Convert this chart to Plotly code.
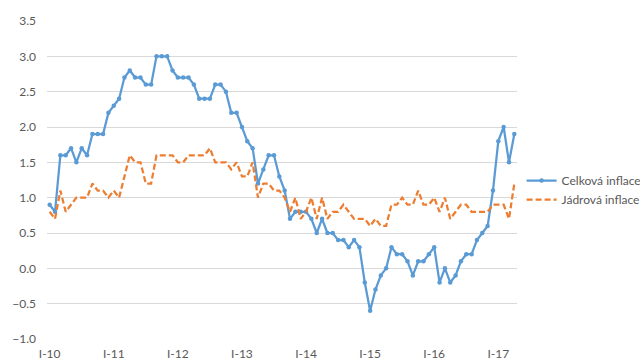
import plotly.graph_objects as go

# Year labels shown under every January
year_labels = ["I-10", "I-11", "I-12", "I-13", "I-14", "I-15", "I-16", "I-17"]

# Monthly year-on-year inflation, Jan 2010 - Apr 2017 (%)
celkova = [
    0.9, 0.8, 1.6, 1.6, 1.7, 1.5, 1.7, 1.6, 1.9, 1.9, 1.9, 2.2,   # 2010
    2.3, 2.4, 2.7, 2.8, 2.7, 2.7, 2.6, 2.6, 3.0, 3.0, 3.0, 2.8,   # 2011
    2.7, 2.7, 2.7, 2.6, 2.4, 2.4, 2.4, 2.6, 2.6, 2.5, 2.2, 2.2,   # 2012
    2.0, 1.8, 1.7, 1.2, 1.4, 1.6, 1.6, 1.3, 1.1, 0.7, 0.8, 0.8,   # 2013
    0.8, 0.7, 0.5, 0.7, 0.5, 0.5, 0.4, 0.4, 0.3, 0.4, 0.3, -0.2,  # 2014
    -0.6, -0.3, -0.1, 0.0, 0.3, 0.2, 0.2, 0.1, -0.1, 0.1, 0.1, 0.2,  # 2015
    0.3, -0.2, 0.0, -0.2, -0.1, 0.1, 0.2, 0.2, 0.4, 0.5, 0.6, 1.1,  # 2016
    1.8, 2.0, 1.5, 1.9,                                           # 2017
]
jadrova = [
    0.8, 0.7, 1.1, 0.8, 0.9, 1.0, 1.0, 1.0, 1.2, 1.1, 1.1, 1.0,   # 2010
    1.1, 1.0, 1.3, 1.6, 1.5, 1.5, 1.2, 1.2, 1.6, 1.6, 1.6, 1.6,   # 2011
    1.5, 1.5, 1.6, 1.6, 1.6, 1.6, 1.7, 1.5, 1.5, 1.5, 1.4, 1.5,   # 2012
    1.3, 1.3, 1.5, 1.0, 1.2, 1.2, 1.1, 1.1, 1.0, 0.8, 1.0, 0.7,   # 2013
    0.8, 1.0, 0.7, 1.0, 0.7, 0.8, 0.8, 0.9, 0.8, 0.7, 0.7, 0.7,   # 2014
    0.6, 0.7, 0.6, 0.6, 0.9, 0.9, 1.0, 0.9, 0.9, 1.1, 0.9, 0.9,   # 2015
    1.0, 0.8, 1.0, 0.7, 0.8, 0.9, 0.9, 0.8, 0.8, 0.8, 0.8, 0.9,   # 2016
    0.9, 0.9, 0.7, 1.2,                                           # 2017
]

months = list(range(len(celkova)))
n_cats = len(celkova)
x_range = [-0.5, n_cats - 0.5]
y_min, y_max = -1.0, 3.5

FONT = "Lato"
TEXT = "#595959"
GRID = "#d9d9d9"

fig = go.Figure()
fig.add_trace(go.Scatter(
    x=months, y=celkova, name="Celková inflace", mode="lines+markers",
    line=dict(color="#5b9bd5", width=2.25),
    marker=dict(color="#5b9bd5", size=4.5),
))
fig.add_trace(go.Scatter(
    x=months, y=jadrova, name="Jádrová inflace", mode="lines",
    line=dict(color="#ed7d31", width=2.25, dash="6px,3px"),
))

# Category axis crossing at zero: tick marks at the year boundaries
boundaries = [12 * i - 0.5 for i in range(len(year_labels) + 1)]
zero_pos = (0 - y_min) / (y_max - y_min)

fig.update_layout(
    width=640, height=362,
    margin=dict(l=47, r=123, t=21, b=23, autoexpand=False),
    paper_bgcolor="white", plot_bgcolor="white",
    font=dict(family=FONT, size=12, color=TEXT),
    showlegend=True,
    legend=dict(
        xref="container", yref="container",
        x=0.815, xanchor="left", y=0.475, yanchor="middle",
        font=dict(family=FONT, size=12, color=TEXT),
        bgcolor="rgba(0,0,0,0)", itemwidth=30, tracegroupgap=0,
    ),
    xaxis=dict(
        range=x_range, showgrid=False, zeroline=False, showline=False,
        tickmode="array", tickvals=[12 * i for i in range(len(year_labels))],
        ticktext=year_labels, ticks="", ticklabelstandoff=6,
        tickfont=dict(size=12, color=TEXT), automargin=False,
    ),
    xaxis2=dict(
        range=x_range, overlaying="x", anchor="free", position=zero_pos,
        side="bottom", showgrid=False, zeroline=False,
        showline=True, linecolor=GRID, linewidth=1,
        tickmode="array", tickvals=boundaries, ticks="outside",
        ticklen=6, tickcolor=GRID, tickwidth=1, showticklabels=False,
        automargin=False,
    ),
    yaxis=dict(
        range=[y_min, y_max], dtick=0.5, tick0=0, tickformat=".1f",
        showgrid=True, gridcolor=GRID, gridwidth=1,
        zeroline=True, zerolinecolor=GRID, zerolinewidth=1,
        showline=False, ticks="", ticklabelstandoff=10,
        tickfont=dict(size=12, color=TEXT), automargin=False,
    ),
)

fig.write_html("out.html")
